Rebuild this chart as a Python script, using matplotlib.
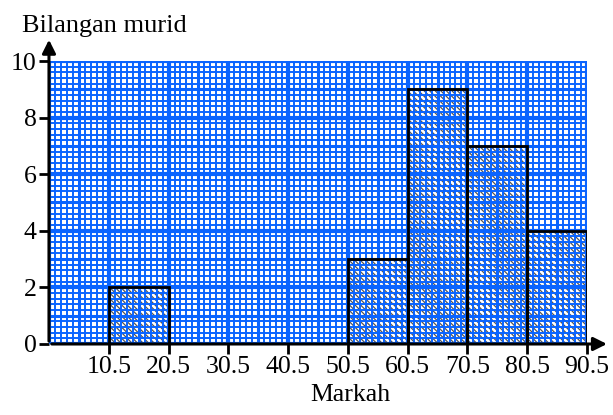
import matplotlib.pyplot as plt
import numpy as np

plt.rcParams['font.family'] = ['Liberation Serif', 'DejaVu Serif']
plt.rcParams['hatch.linewidth'] = 0.9

# data
edges = [10.5, 20.5, 30.5, 40.5, 50.5, 60.5, 70.5, 80.5, 90.5]
bar_left = [10.5, 50.5, 60.5, 70.5, 80.5]
bar_height = [2, 3, 9, 7, 4]
bar_width = 10
y_ticks = [0, 2, 4, 6, 8, 10]

fig = plt.figure(figsize=(6.13, 4.15), dpi=100)
ax = fig.add_axes([0.0799, 0.1711, 0.8777, 0.6819])

xmin, xmax = 0.5, 90.5
ymin, ymax = 0, 10
blue = '#0a64ff'

# graph paper grid (drawn over the hatching, like the printed sheet)
for x in np.arange(xmin, xmax + 0.01, 1):
    k = int(round(x - 0.5))
    if k % 10 == 0:
        lw = 3.0
    elif k % 5 == 0:
        lw = 2.2
    else:
        lw = 1.4
    ax.plot([x, x], [ymin, ymax], color=blue, lw=lw, zorder=2, solid_capstyle='butt')
for j in range(0, 51):
    y = j * 0.2
    if j % 10 == 0:
        lw = 3.0
    elif j % 5 == 0:
        lw = 2.2
    else:
        lw = 1.4
    ax.plot([xmin, xmax], [y, y], color=blue, lw=lw, zorder=2, solid_capstyle='butt')

# histogram bars
ax.bar(bar_left, bar_height, width=bar_width, align='edge', facecolor='none',
       edgecolor='#555555', hatch='\\' * 6, linewidth=0, zorder=1)
ax.bar(bar_left, bar_height, width=bar_width, align='edge', facecolor='none',
       edgecolor='black', linewidth=2.0, zorder=3)

ax.set_xlim(xmin, xmax)
ax.set_ylim(ymin, ymax)
for s in ['top', 'right', 'left', 'bottom']:
    ax.spines[s].set_visible(False)

# axes with arrows
ax.annotate('', xy=(94.3, 0), xytext=(xmin, 0), xycoords='data',
            arrowprops=dict(arrowstyle='-|>', color='black', lw=2.2, mutation_scale=20),
            annotation_clip=False, zorder=4)
ax.annotate('', xy=(xmin, 10.85), xytext=(xmin, 0), xycoords='data',
            arrowprops=dict(arrowstyle='-|>', color='black', lw=2.2, mutation_scale=20),
            annotation_clip=False, zorder=4)

ax.set_xticks(edges)
ax.set_xticklabels([f'{e:.1f}' for e in edges])
ax.set_yticks(y_ticks)
ax.tick_params(axis='both', direction='out', length=7, width=2.0, labelsize=18.5,
               color='black', pad=2)

ax.text(-0.05, 1.085, 'Bilangan murid', transform=ax.transAxes, fontsize=19,
        ha='left', va='bottom')
ax.set_xlabel('Markah', fontsize=18.5)
ax.xaxis.set_label_coords(0.56, -0.14)
ax.xaxis.label.set_va('top')

plt.savefig('out.png', dpi=100)
